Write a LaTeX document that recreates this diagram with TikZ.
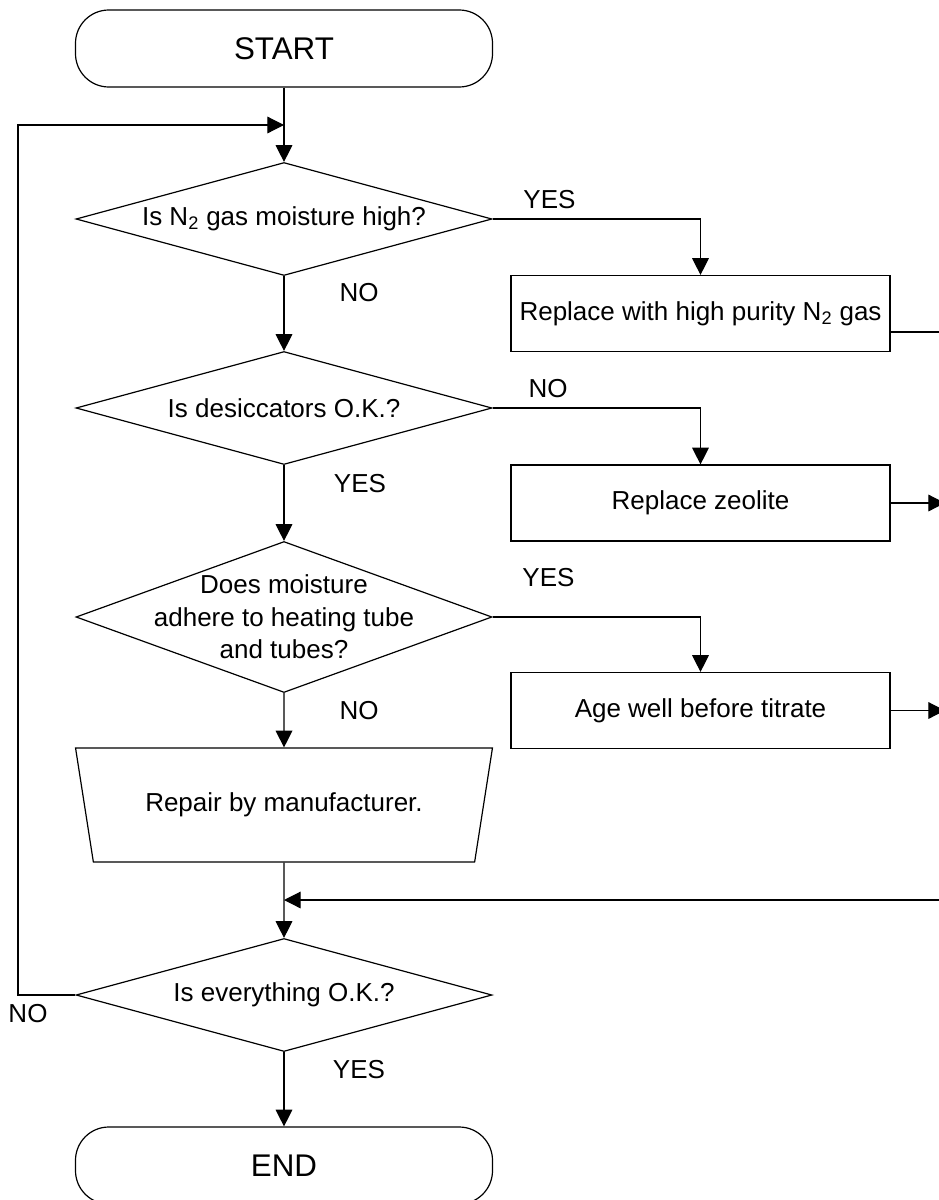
\documentclass[tikz,border=0pt]{standalone}
\usepackage{fontspec}
\setmainfont{Liberation Sans}
\usepackage{tikz}
\usetikzlibrary{shapes.geometric,arrows.meta,positioning}

\begin{document}
\begin{tikzpicture}[
  x=0.75pt, y=-0.75pt,
  line width=0.9pt,
  every node/.style={font=\fontsize{19.5}{24.4}\selectfont},
  term/.style={draw, rounded corners=25pt, minimum width=312.75pt, minimum height=57.75pt,
               font=\fontsize{23.5}{28}\selectfont},
  decision/.style={draw, diamond, minimum width=312pt, minimum height=84.75pt, inner sep=0pt},
  box/.style={draw, minimum width=284.25pt, minimum height=57pt, inner sep=2pt},
  manual/.style={draw, trapezium, trapezium left angle=68, trapezium right angle=68,
                 trapezium stretches=true, shape border rotate=180,
                 minimum width=312.75pt, minimum height=85.5pt},
  lbl/.style={anchor=base},
  arr/.style={-{Triangle[length=12.5pt, width=12.5pt]}}
]
\useasboundingbox (0,0) rectangle (939,1200);

\node[term] (start) at (284,48.5) {START};
\node[decision, label={center:Is N\textsubscript{2} gas moisture high?}] (q1) at (284,219) {};
\node[box] (fix1) at (700.5,313.5) {Replace with high purity N\textsubscript{2} gas};
\node[decision, label={center:Is desiccators O.K.?}] (q2) at (284,408) {};
\node[box] (fix2) at (700.5,503) {Replace zeolite};
\node[decision, minimum height=113.25pt,
      label={[align=center]center:{Does moisture\\adhere to heating tube\\and tubes?}}] (q3) at (284,617) {};
\node[box] (fix3) at (700.5,710.5) {Age well before titrate};
\node[manual] (repair) at (284,805) {Repair by manufacturer.};
\node[decision, label={center:Is everything O.K.?}] (q4) at (284,995) {};
\node[term] (finish) at (284,1165.5) {END};

% branch labels
\node[lbl] (yes1) at (549.5,208) {YES};
\node[lbl] (no1)  at (359,301)   {NO};
\node[lbl] (no2)  at (548,397)   {NO};
\node[lbl] (yes2) at (360,492)   {YES};
\node[lbl] (yes3) at (548.5,586) {YES};
\node[lbl] (no3)  at (359,719)   {NO};
\node[lbl] (no4)  at (28,1022)   {NO};
\node[lbl] (yes4) at (359,1078)  {YES};

% junctions and the open ends at the right margin
\coordinate (join1) at (284,125);
\coordinate (join2) at (284,900);
\coordinate (loopx) at (18,125);
\coordinate (edge1) at (941,332);
\coordinate (edge2) at (945,503);
\coordinate (edge3) at (945,710.5);
\coordinate (edge4) at (941,900);

\draw[arr] (start.south) -- (q1.north);
\draw[arr] (q1.south) -- (q2.north);
\draw[arr] (q2.south) -- (q3.north);
\draw[arr] (q3.south) -- (repair);
\draw[arr] (repair) -- (q4.north);
\draw[arr] (q4.south) -- (finish.north);

\draw[arr] (q1.east) -| (fix1.north);
\draw[arr] (q2.east) -| (fix2.north);
\draw[arr] (q3.east) -| (fix3.north);

\draw (fix1.east |- edge1) -- (edge1);
\draw[arr] (fix2.east) -- (edge2);
\draw[arr] (fix3.east) -- (edge3);
\draw[arr] (edge4) -- (join2);

\draw[arr] (q4.west) -| (loopx) -- (join1);
\end{tikzpicture}
\end{document}
